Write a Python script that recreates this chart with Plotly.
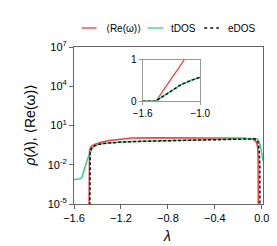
import plotly.graph_objects as go

# ---- main panel data (log scale) ----
re_x = [-1.473, -1.472, -1.468, -1.46, -1.45, -1.43, -1.40, -1.37, -1.30, -1.23, -1.10, -0.90,
        -0.60, -0.30, -0.15, -0.09, -0.06, -0.045, -0.037, -0.032, -0.030, -0.029]
re_y = [1e-7, 0.05, 0.12, 0.20, 0.27, 0.34, 0.44, 0.52, 0.70, 0.85, 1.10, 1.18,
        1.18, 1.15, 1.08, 0.95, 0.75, 0.50, 0.25, 0.06, 0.01, 1e-7]

tdos_x = [-1.60, -1.56, -1.54, -1.53, -1.52, -1.51, -1.50, -1.49, -1.48, -1.47, -1.46, -1.45,
          -1.43, -1.40, -1.35, -1.30, -1.20, -1.00, -0.80, -0.60, -0.40, -0.20, -0.10,
          -0.06, -0.04, -0.03, -0.02, -0.012, -0.006, 0.0, 0.01]
tdos_y = [7e-4, 8e-4, 9e-4, 1.3e-3, 3e-3, 6e-3, 1e-2, 2e-2, 4e-2, 6e-2, 0.09, 0.15,
          0.26, 0.35, 0.42, 0.48, 0.55, 0.63, 0.70, 0.78, 0.86, 0.96, 1.02,
          1.0, 0.9, 0.75, 0.5, 0.3, 0.15, 0.07, 0.02]

edos_x = [-1.466, -1.465, -1.462, -1.455, -1.445, -1.43, -1.40, -1.35, -1.30, -1.20, -1.00,
          -0.80, -0.60, -0.40, -0.20, -0.10, -0.06, -0.04, -0.03, -0.022, -0.017, -0.016]
edos_y = [1e-7, 0.03, 0.09, 0.15, 0.21, 0.26, 0.35, 0.42, 0.48, 0.55, 0.63,
          0.70, 0.78, 0.86, 0.96, 1.02, 0.95, 0.75, 0.45, 0.10, 0.01, 1e-7]

# ---- inset data (linear scale) ----
in_re_x = [-1.60, -1.47, -1.44, -1.37, -1.30, -1.23, -1.17, -1.15]
in_re_y = [0, 0, 0.07, 0.32, 0.55, 0.78, 1.0, 1.06]
in_dos_x = [-1.60, -1.47, -1.42, -1.36, -1.30, -1.25, -1.20, -1.10, -1.00]
in_dos_y = [0, 0, 0.07, 0.16, 0.26, 0.33, 0.40, 0.50, 0.58]

# ---- ticks / labels ----
y_tickvals = [1e-5, 1e-2, 1e1, 1e4, 1e7]
y_ticktext = ["10<sup>-5</sup>", "10<sup>-2</sup>", "10<sup>1</sup>", "10<sup>4</sup>", "10<sup>7</sup>"]
x_tickvals = [-1.6, -1.2, -0.8, -0.4, 0.0]
x_ticktext = ["\u22121.6", "\u22121.2", "\u22120.8", "\u22120.4", "0.0"]
in_x_tickvals = [-1.6, -1.0]
in_x_ticktext = ["\u22121.6", "\u22121.0"]
in_y_tickvals = [0, 1]
in_y_ticktext = ["0", "1"]
series_names = ["\u27e8Re(\u03c9)\u27e9", "tDOS", "eDOS"]

RED = "#f0393f"
GREEN = "#3ecc8c"
BLACK = "#111111"
AX = "#666666"
FONT = "Liberation Sans, Arial, DejaVu Sans, sans-serif"
colors = [RED, GREEN, BLACK]
dashes = ["solid", "solid", "dot"]

fig = go.Figure()
fig.add_trace(go.Scatter(x=re_x, y=re_y, mode="lines", name=series_names[0],
                         line=dict(color=RED, width=1.5)))
fig.add_trace(go.Scatter(x=tdos_x, y=tdos_y, mode="lines", name=series_names[1],
                         line=dict(color=GREEN, width=1.5)))
fig.add_trace(go.Scatter(x=edos_x, y=edos_y, mode="lines", name=series_names[2],
                         line=dict(color=BLACK, width=1.5, dash="3px,2px")))

fig.add_trace(go.Scatter(x=in_re_x, y=in_re_y, mode="lines", xaxis="x2", yaxis="y2",
                         showlegend=False, line=dict(color=RED, width=1.2)))
fig.add_trace(go.Scatter(x=in_dos_x, y=in_dos_y, mode="lines", xaxis="x2", yaxis="y2",
                         showlegend=False, line=dict(color=GREEN, width=1.5)))
fig.add_trace(go.Scatter(x=in_dos_x, y=in_dos_y, mode="lines", xaxis="x2", yaxis="y2",
                         showlegend=False, line=dict(color=BLACK, width=1.5, dash="3px,2px")))

# manual legend (compact, single row)
leg_y = 1.121
leg_line_x = [(0.041, 0.119), (0.389, 0.472), (0.689, 0.767)]
leg_text_x = [0.161, 0.503, 0.803]
shapes = []
annotations = []
for i in range(3):
    x0, x1 = leg_line_x[i]
    shapes.append(dict(type="line", xref="paper", yref="paper", x0=x0, x1=x1, y0=leg_y, y1=leg_y,
                       line=dict(color=colors[i], width=1.3,
                                 dash="3px,3px" if i == 2 else "solid")))
    annotations.append(dict(text=series_names[i], xref="paper", yref="paper", x=leg_text_x[i],
                            y=leg_y, xanchor="left", yanchor="middle", showarrow=False,
                            font=dict(size=10)))

annotations += [
    dict(text="<i>\u03c1</i>(<i>\u03bb</i>), \u27e8Re(\u03c9)\u27e9", xref="paper", yref="paper",
         x=-0.238, y=0.5, xanchor="center", yanchor="middle", textangle=-90,
         showarrow=False, font=dict(size=14)),
    dict(text="<i>\u03bb</i>", xref="paper", yref="paper",
         x=0.49, y=-0.204, xanchor="center", yanchor="middle",
         showarrow=False, font=dict(size=14)),
]

fig.update_layout(
    width=277, height=246,
    margin=dict(l=66, r=18, t=39, b=50),
    paper_bgcolor="white", plot_bgcolor="white",
    font=dict(family=FONT, size=11, color="black"),
    showlegend=False,
    xaxis=dict(range=[-1.6, 0.01], tickvals=x_tickvals, ticktext=x_ticktext,
               showgrid=False, zeroline=False, showline=True, linecolor=AX, linewidth=1,
               mirror=True, ticks="outside", ticklen=4, tickcolor=AX,
               tickfont=dict(size=11)),
    yaxis=dict(type="log", range=[-5, 7], tickvals=y_tickvals, ticktext=y_ticktext,
               showgrid=False, zeroline=False, showline=True, linecolor=AX, linewidth=1,
               mirror=True, ticks="outside", ticklen=4, tickcolor=AX,
               tickfont=dict(size=11)),
    xaxis2=dict(domain=[0.363, 0.668], anchor="y2", range=[-1.6, -1.0],
                tickvals=in_x_tickvals, ticktext=in_x_ticktext,
                showgrid=False, zeroline=False, showline=True, linecolor="#999999",
                linewidth=1, mirror=True, ticks="outside", ticklen=3, tickcolor="#999999",
                tickfont=dict(size=10)),
    yaxis2=dict(domain=[0.654, 0.919], anchor="x2", range=[0, 1],
                tickvals=in_y_tickvals, ticktext=in_y_ticktext,
                showgrid=False, zeroline=False, showline=True, linecolor="#999999",
                linewidth=1, mirror=True, ticks="outside", ticklen=3, tickcolor="#999999",
                tickfont=dict(size=10)),
    shapes=shapes,
    annotations=annotations,
)

fig.write_html("out.html")
